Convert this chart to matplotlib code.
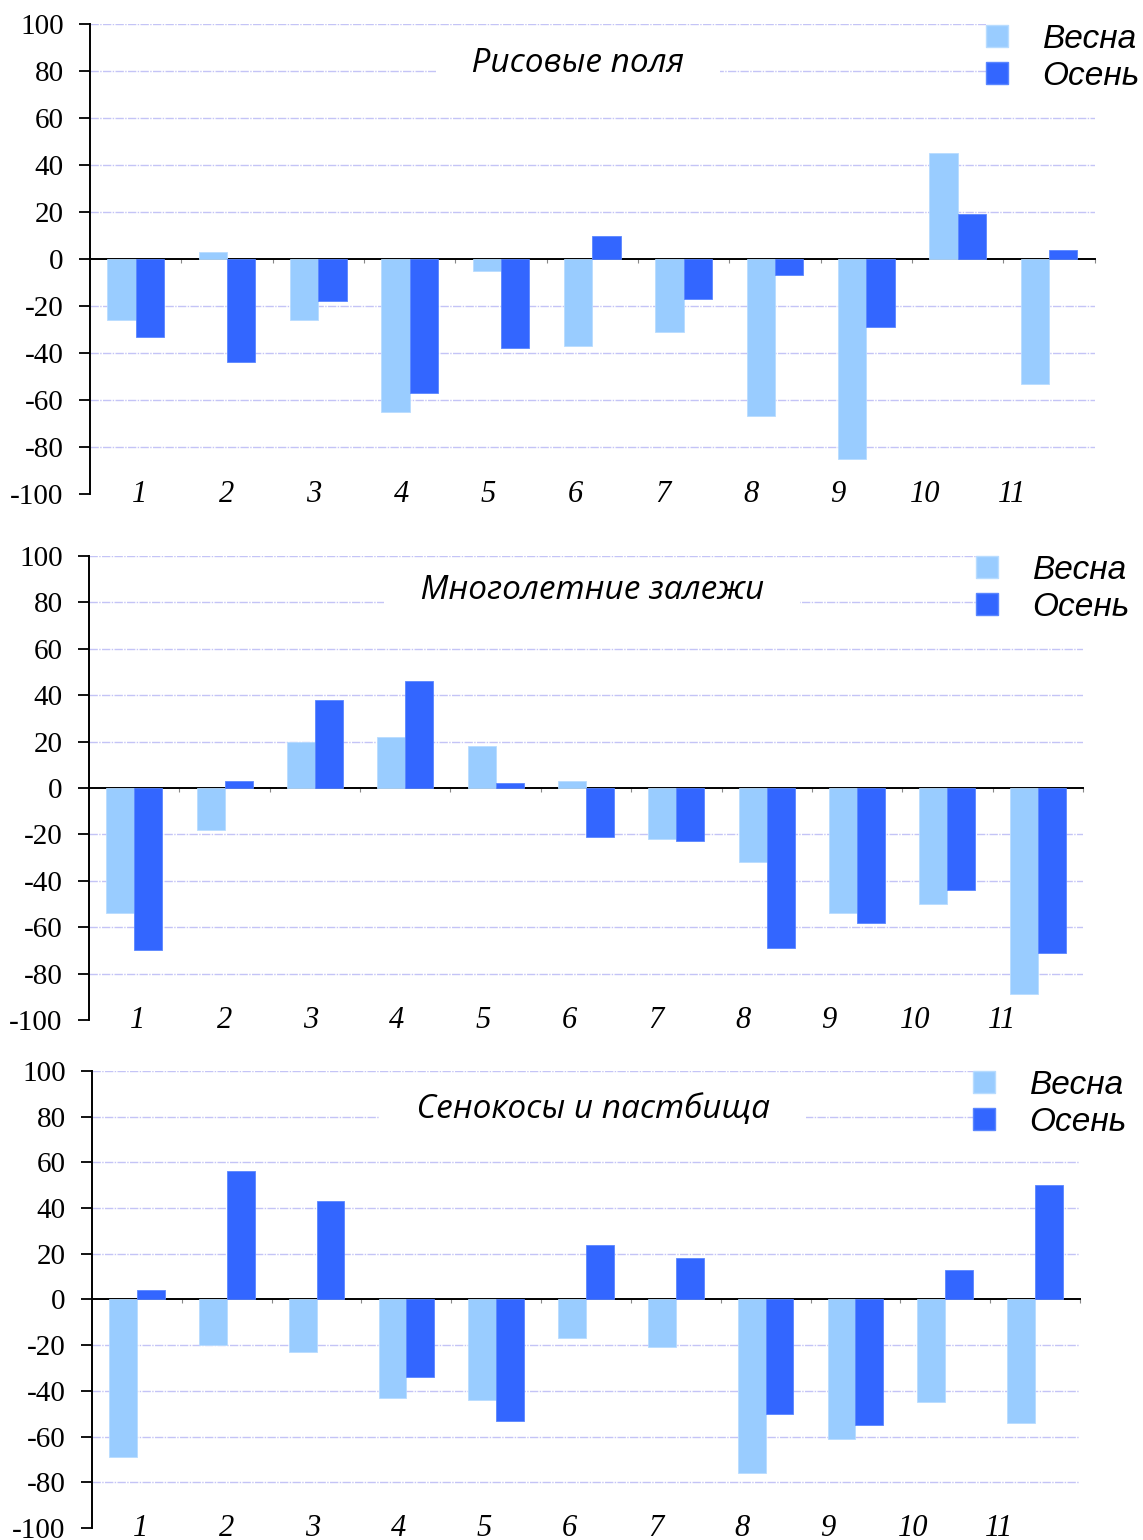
import matplotlib.pyplot as plt
import matplotlib.transforms as mtransforms
from matplotlib.patches import Patch
import numpy as np

sites = ['1', '2', '3', '4', '5', '6', '7', '8', '9', '10', '11']
series = ['Весна', 'Осень']

titles = ['Рисовые поля', 'Многолетние залежи', 'Сенокосы и пастбища']

# рисовые поля
rice_spring = [-26, 3, -26, -65, -5, -37, -31, -67, -85, 45, -53]
rice_autumn = [-33, -44, -18, -57, -38, 10, -17, -7, -29, 19, 4]

# многолетние залежи
fallow_spring = [-54, -18, 20, 22, 18, 3, -22, -32, -54, -50, -89]
fallow_autumn = [-70, 3, 38, 46, 2, -21, -23, -69, -58, -44, -71]

# сенокосы и пастбища
hay_spring = [-69, -20, -23, -43, -44, -17, -21, -76, -61, -45, -54]
hay_autumn = [4, 56, 43, -34, -53, 24, 18, -50, -55, 13, 50]

data = [(rice_spring, rice_autumn),
        (fallow_spring, fallow_autumn),
        (hay_spring, hay_autumn)]

c_spring = '#99ccff'
c_autumn = '#3366ff'

W, H = 1143, 1540
# axes boxes in figure fractions (left, bottom, width, height)
boxes = [[0.0787, 0.6792, 0.879, 0.3052],
         [0.0779, 0.3377, 0.8696, 0.3013],
         [0.0805, 0.0078, 0.8644, 0.2968]]
title_x = [0.486, 0.506, 0.507]
title_y = [83, 85, 83]
# legend upper-left corner in pixels
legend_px = [(986, 24), (976, 555), (973, 1070)]

fig = plt.figure(figsize=(W / 100, H / 100), dpi=100)

x = np.arange(len(sites))
w = 0.31

for k in range(3):
    ax = fig.add_axes(boxes[k])
    spring, autumn = data[k]
    ax.bar(x - w / 2, spring, w, color=c_spring, edgecolor='#b8dcff', linewidth=0.6, zorder=3)
    ax.bar(x + w / 2, autumn, w, color=c_autumn, edgecolor='#5a86ff', linewidth=0.6, zorder=3)

    ax.set_xlim(-0.5, len(sites) - 0.5)
    ax.set_ylim(-100, 100)
    ax.set_yticks(range(-100, 101, 20))
    ax.set_yticklabels([str(v) for v in range(-100, 101, 20)],
                       family='Liberation Serif', fontsize=21)
    ax.tick_params(axis='y', direction='out', length=8, width=1.3, pad=11)

    for yv in range(-80, 101, 20):
        if yv != 0:
            ax.axhline(yv, color='#c4c4f6', lw=1.0, ls=(0, (6, 1, 1, 1)), zorder=1)

    # zero line with small marks between categories
    ax.spines['bottom'].set_position(('data', 0))
    ax.spines['bottom'].set_linewidth(1.4)
    ax.spines['top'].set_visible(False)
    ax.spines['right'].set_visible(False)
    ax.spines['left'].set_linewidth(1.4)
    ax.set_xticks(x + 0.5, minor=True)
    ax.set_xticks([])
    ax.tick_params(axis='x', which='minor', direction='out', length=3,
                   width=0.8, color='#888888')

    trans = mtransforms.blended_transform_factory(ax.transData, ax.transAxes)
    for i, s in enumerate(sites):
        ax.text(0.04 + i * 0.956, -0.002, s, transform=trans, ha='center', va='center',
                family='Liberation Serif', style='italic', fontsize=22)

    ax.text(title_x[k], title_y[k], '    ' + titles[k] + '    ',
            transform=mtransforms.blended_transform_factory(ax.transAxes, ax.transData),
            ha='center', va='center', family='Open Sans', style='italic', fontsize=24,
            bbox=dict(facecolor='white', edgecolor='none', pad=1), zorder=5)

    handles = [Patch(facecolor=c_spring, edgecolor='#b8dcff'),
               Patch(facecolor=c_autumn, edgecolor='#5a86ff')]
    lx, ly = legend_px[k]
    leg = fig.legend(handles, series, loc='upper left',
                     bbox_to_anchor=(lx / W, 1 - ly / H), borderaxespad=0,
                     frameon=True, fancybox=False, handlelength=0.65, handleheight=0.65,
                     handletextpad=1.05, labelspacing=0.17, borderpad=0.0,
                     prop={'family': 'Liberation Sans', 'style': 'italic', 'size': 24})
    leg.get_frame().set_edgecolor('none')
    leg.get_frame().set_facecolor('white')
    leg.get_frame().set_alpha(1)

fig.savefig('out.png', dpi=100)
